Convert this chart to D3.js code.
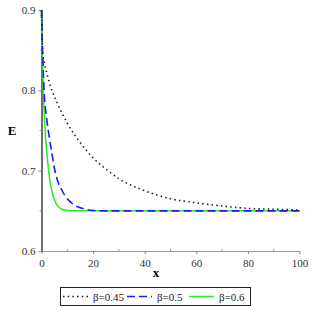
<!DOCTYPE html>
<html>
<head>
<meta charset="utf-8">
<script src="https://cdn.jsdelivr.net/npm/d3@7"></script>
<style>
  body { margin: 0; background: #fff; }
  text { font-family: "Liberation Serif", "DejaVu Serif", serif; }
</style>
</head>
<body>
<div id="chart"></div>
<script>
// values
var labels = ['β=0.45', 'β=0.5', 'β=0.6'];
var xs045 = [0, 0.5, 1, 2, 4, 6, 10, 15, 20, 25, 30, 40, 50, 60, 70, 80, 90, 100];
var ys045 = [0.9, 0.845, 0.835, 0.822, 0.8, 0.785, 0.759, 0.735, 0.716, 0.702, 0.69, 0.675, 0.665, 0.66, 0.656, 0.653, 0.652, 0.651];
var xs05 = [0, 0.5, 1, 2, 3, 4, 5, 6, 8, 10, 12, 14, 17, 20, 25, 40, 60, 80, 100];
var ys05 = [0.9, 0.84, 0.8, 0.765, 0.742, 0.722, 0.703, 0.69, 0.675, 0.665, 0.659, 0.655, 0.652, 0.6505, 0.65, 0.65, 0.65, 0.65, 0.65];
var xs06 = [0, 0.3, 0.7, 1, 1.5, 2, 2.5, 3, 4, 5, 6, 8, 10, 12, 40, 70, 100];
var ys06 = [0.9, 0.85, 0.8, 0.775, 0.745, 0.725, 0.708, 0.693, 0.675, 0.664, 0.657, 0.652, 0.6505, 0.65, 0.65, 0.65, 0.65];
var xTicks = [0, 20, 40, 60, 80, 100];
var yTicks = [0.6, 0.7, 0.8, 0.9];

var width = 312, height = 312;
var mLeft = 41.5, mRight = 299.5, mTop = 10, mBottom = 251;

var svg = d3.select('#chart').append('svg')
  .attr('width', width).attr('height', height);

var x = d3.scaleLinear().domain([0, 100]).range([mLeft, mRight]);
var y = d3.scaleLinear().domain([0.6, 0.9]).range([mBottom, mTop]);

var series = [
  {name: labels[0], xs: xs045, ys: ys045, color: '#222', dash: '1.5 3.2', width: 1.6},
  {name: labels[1], xs: xs05, ys: ys05, color: '#1a1aff', dash: '8 4', width: 1.6},
  {name: labels[2], xs: xs06, ys: ys06, color: '#22ee22', dash: null, width: 1.5}
];

var line = d3.line()
  .x(d => x(d[0])).y(d => y(d[1]))
  .curve(d3.curveMonotoneX);

// axes
var xAxis = d3.axisBottom(x).tickValues(xTicks).tickSize(3).tickSizeOuter(0).tickFormat(d3.format('d'));
var yAxis = d3.axisLeft(y).tickValues(yTicks).tickSize(3).tickSizeOuter(0).tickFormat(d3.format('.1f'));

var gx = svg.append('g').attr('transform', 'translate(0,' + mBottom + ')').call(xAxis);
var gy = svg.append('g').attr('transform', 'translate(' + mLeft + ',0)').call(yAxis);

// minor ticks
svg.append('g').selectAll('line')
  .data([10, 30, 50, 70, 90]).enter().append('line')
  .attr('x1', d => x(d)).attr('x2', d => x(d))
  .attr('y1', mBottom).attr('y2', mBottom - 2)
  .attr('stroke', '#999');
svg.append('g').selectAll('line')
  .data([0.65, 0.75, 0.85]).enter().append('line')
  .attr('x1', mLeft).attr('x2', mLeft - 2)
  .attr('y1', d => y(d)).attr('y2', d => y(d))
  .attr('stroke', '#999');

[gx, gy].forEach(function (g) {
  g.selectAll('text').attr('font-size', 11).attr('fill', '#333')
    .style('font-family', '"Liberation Serif", serif');
  g.selectAll('.tick line').attr('stroke', '#888');
});
gx.select('.domain').attr('stroke', '#999').attr('stroke-width', 1.2);
gy.select('.domain').attr('stroke', '#111').attr('stroke-width', 1.2);
gx.selectAll('text').attr('dy', '0.9em');

svg.append('text').attr('x', 12).attr('y', 135)
  .attr('text-anchor', 'middle').attr('font-weight', 'bold').attr('font-size', 13)
  .text('E');
svg.append('text').attr('x', 156).attr('y', 277)
  .attr('text-anchor', 'middle').attr('font-weight', 'bold').attr('font-size', 13)
  .text('x');

// curves (draw green first so blue and dots sit on top where they meet)
svg.append('g').selectAll('path')
  .data(series.slice().reverse()).enter().append('path')
  .attr('d', d => line(d3.zip(d.xs, d.ys)))
  .attr('fill', 'none')
  .attr('stroke', d => d.color)
  .attr('stroke-width', d => d.width)
  .attr('stroke-dasharray', d => d.dash);

// legend
var legend = svg.append('g');
legend.append('rect')
  .attr('x', 60.5).attr('y', 287.5).attr('width', 190).attr('height', 18)
  .attr('fill', '#fff').attr('stroke', '#222').attr('stroke-width', 1);
var lx = [63, 127, 189];
var items = legend.selectAll('g.item').data(series).enter().append('g').attr('class', 'item');
items.append('line')
  .attr('x1', (d, i) => lx[i]).attr('x2', (d, i) => lx[i] + 25)
  .attr('y1', 296.5).attr('y2', 296.5)
  .attr('stroke', d => d.color)
  .attr('stroke-width', d => d.width)
  .attr('stroke-dasharray', d => d.dash);
items.append('text')
  .attr('x', (d, i) => lx[i] + 30).attr('y', 300.5)
  .attr('font-size', 11).attr('fill', '#222')
  .text(d => d.name);
</script>
</body>
</html>
